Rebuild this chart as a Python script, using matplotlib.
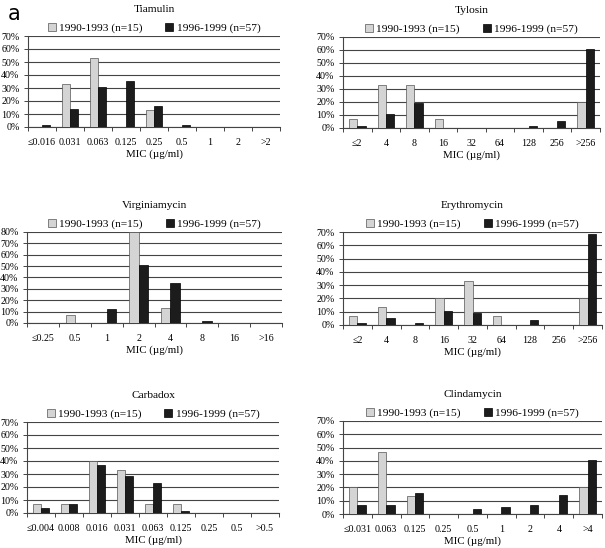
import numpy as np
import matplotlib.pyplot as plt
from matplotlib.patches import Patch

plt.rcParams['font.family'] = ['Liberation Serif', 'DejaVu Serif']

tiam_cats = ["≤0.016", "0.031", "0.063", "0.125", "0.25", "0.5", "1", "2", ">2"]
tiam_old = [0, 33.3, 53.3, 0, 13.3, 0, 0, 0, 0]
tiam_new = [1.8, 14.0, 31.0, 35.1, 15.8, 1.8, 0, 0, 0]

tylo_cats = ["≤2", "4", "8", "16", "32", "64", "128", "256", ">256"]
tylo_old = [6.7, 33.3, 33.3, 6.7, 0, 0, 0, 0, 20.0]
tylo_new = [1.8, 10.5, 19.3, 0, 0, 0, 1.8, 5.3, 61.0]

virg_cats = ["≤0.25", "0.5", "1", "2", "4", "8", "16", ">16"]
virg_old = [0, 6.7, 0, 80.0, 13.3, 0, 0, 0]
virg_new = [0, 0, 12.3, 50.9, 35.1, 1.8, 0, 0]

eryt_cats = ["≤2", "4", "8", "16", "32", "64", "128", "256", ">256"]
eryt_old = [6.7, 13.3, 0, 20.0, 33.3, 6.7, 0, 0, 20.0]
eryt_new = [1.8, 5.3, 1.8, 10.5, 8.8, 0, 3.5, 0, 68.4]

carb_cats = ["≤0.004", "0.008", "0.016", "0.031", "0.063", "0.125", "0.25", "0.5", ">0.5"]
carb_old = [6.7, 6.7, 40.0, 33.3, 6.7, 6.7, 0, 0, 0]
carb_new = [3.5, 7.0, 36.8, 28.1, 22.8, 1.8, 0, 0, 0]

clin_cats = ["≤0.031", "0.063", "0.125", "0.25", "0.5", "1", "2", "4", ">4"]
clin_old = [20.0, 46.7, 13.3, 0, 0, 0, 0, 0, 20.0]
clin_new = [7.0, 7.0, 15.8, 0, 3.5, 5.3, 7.0, 14.0, 40.4]

W, H = 605, 548
fig = plt.figure(figsize=(W / 100, H / 100), dpi=100)

# (title, cats, old, new, ymax, left, right, top, bottom) in pixels
panels = [
    ("Tiamulin", tiam_cats, tiam_old, tiam_new, 70, 28, 280, 36, 127),
    ("Tylosin", tylo_cats, tylo_old, tylo_new, 70, 343, 600, 37, 128),
    ("Virginiamycin", virg_cats, virg_old, virg_new, 80, 27, 282, 232, 323),
    ("Erythromycin", eryt_cats, eryt_old, eryt_new, 70, 343, 602, 232, 325),
    ("Carbadox", carb_cats, carb_old, carb_new, 70, 27, 279, 422, 513),
    ("Clindamycin", clin_cats, clin_old, clin_new, 70, 343, 602, 421, 514),
]

light = "#d4d4d4"
dark = "#1c1c1c"

for title, cats, old, new, ymax, l, r, t, b in panels:
    ax = fig.add_axes([l / W, 1 - b / H, (r - l) / W, (b - t) / H])
    x = np.arange(len(cats))
    bw = 0.29
    ax.bar(x - bw / 2, old, bw, color=light, edgecolor="#555555", linewidth=0.5, zorder=3)
    ax.bar(x + bw / 2, new, bw, color=dark, edgecolor="black", linewidth=0.5, zorder=3)
    ax.set_xlim(-0.5, len(cats) - 0.5)
    ax.set_ylim(0, ymax)
    ax.set_yticks(np.arange(0, ymax + 1, 10))
    ax.set_yticklabels([f"{v}%" for v in range(0, ymax + 1, 10)], fontsize=7.2)
    ax.yaxis.grid(True, color="#444444", linewidth=0.8, zorder=0)
    ax.set_xticks(x)
    ax.set_xticklabels(cats, fontsize=7.2)
    ax.set_xticks(np.arange(-0.5, len(cats)), minor=True)
    ax.tick_params(axis="x", which="major", length=0, pad=8)
    ax.tick_params(axis="x", which="minor", length=3, width=0.7, color="#444444")
    ax.tick_params(axis="y", length=3, width=0.7, color="#444444", pad=3)
    for s in ["top", "right"]:
        ax.spines[s].set_visible(False)
    ax.spines["left"].set_color("#444444")
    ax.spines["bottom"].set_color("#444444")
    ax.set_xlabel("MIC (µg/ml)", fontsize=7.8, labelpad=2)
    handles = [Patch(facecolor=light, edgecolor="#555555", linewidth=0.5),
               Patch(facecolor=dark, edgecolor="black", linewidth=0.5)]
    ax.legend(handles, ["1990-1993 (n=15)", "1996-1999 (n=57)"], loc="lower center",
              bbox_to_anchor=(0.5, 1.02), ncol=2, frameon=False, fontsize=8.2,
              handlelength=0.7, handleheight=0.7, handletextpad=0.3,
              columnspacing=2.0, borderaxespad=0, borderpad=0.1)
    ax.set_title(title, fontsize=8.2, pad=17)

fig.text(8 / W, 1 - 14 / H, "a", fontsize=15, family="DejaVu Sans", va="center")

plt.savefig("out.png", dpi=100)
